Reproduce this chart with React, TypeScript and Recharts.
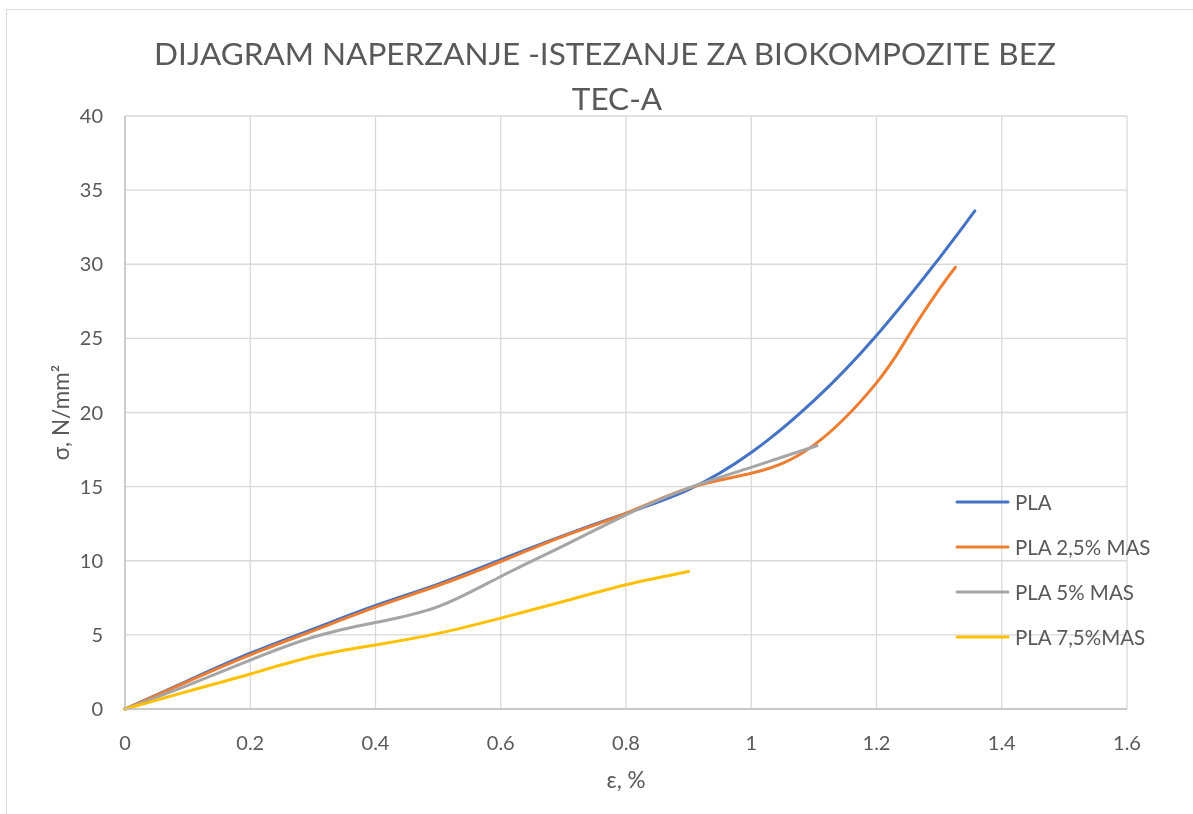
import React from "react";
import { LineChart, Line, XAxis, YAxis, CartesianGrid, Legend, Label } from "recharts";

const plaX = [0, 0.1, 0.2, 0.3, 0.4, 0.5, 0.6, 0.7, 0.8, 0.9, 1.0, 1.1, 1.2, 1.3, 1.357];
const plaY = [0, 1.9, 3.76, 5.38, 6.98, 8.42, 10.07, 11.7, 13.2, 14.8, 17.3, 20.8, 25.2, 30.4, 33.6];

const pla25X = [0, 0.1, 0.2, 0.3, 0.4, 0.5, 0.6, 0.7, 0.8, 0.9, 1.0, 1.1, 1.2, 1.25, 1.3, 1.326];
const pla25Y = [0, 1.85, 3.65, 5.27, 6.87, 8.33, 9.95, 11.64, 13.2, 14.9, 15.9, 17.8, 22.0, 25.1, 28.3, 29.8];

const pla5X = [0, 0.1, 0.2, 0.3, 0.4, 0.5, 0.6, 0.7, 0.8, 0.9, 1.0, 1.105];
const pla5Y = [0, 1.6, 3.3, 4.84, 5.83, 6.9, 8.94, 11.0, 13.1, 14.9, 16.3, 17.76];

const pla75X = [0, 0.1, 0.2, 0.3, 0.4, 0.5, 0.6, 0.7, 0.8, 0.9];
const pla75Y = [0, 1.19, 2.36, 3.54, 4.32, 5.1, 6.13, 7.25, 8.38, 9.28];

const xTicks = [0, 0.2, 0.4, 0.6, 0.8, 1, 1.2, 1.4, 1.6];
const yTicks = [0, 5, 10, 15, 20, 25, 30, 35, 40];

const seriesNames = ["PLA", "PLA 2,5% MAS", "PLA 5% MAS", "PLA 7,5%MAS"];
const seriesColors = ["#4472C4", "#ED7D31", "#A5A5A5", "#FFC000"];

const titleLine1 = "DIJAGRAM NAPERZANJE -ISTEZANJE ZA BIOKOMPOZITE BEZ";
const titleLine2 = "TEC-A";
const xTitle = "ε, %";
const yTitle = "σ, N/mm²";

const toPoints = (xs: number[], ys: number[]) => xs.map((x, i) => ({ x, y: ys[i] }));

const series = [
  toPoints(plaX, plaY),
  toPoints(pla25X, pla25Y),
  toPoints(pla5X, pla5Y),
  toPoints(pla75X, pla75Y),
];

const TEXT = "#595959";
const FONT = "Lato, 'Open Sans', sans-serif";

const LegendContent = () => (
  <div style={{ fontFamily: FONT }}>
    {seriesNames.map((n, i) => (
      <div key={n} style={{ height: 45, display: "flex", alignItems: "center" }}>
        <svg width={56} height={6} style={{ display: "block" }}>
          <line x1={2} y1={3} x2={53} y2={3} stroke={seriesColors[i]} strokeWidth={3} strokeLinecap="round" />
        </svg>
        <span style={{ fontSize: 20.5, color: TEXT, marginLeft: 4, whiteSpace: "nowrap" }}>{n}</span>
      </div>
    ))}
  </div>
);

export default function App() {
  return (
    <div style={{ position: "relative", width: 1177, height: 798, fontFamily: FONT, background: "#fff" }}>
      <div
        style={{
          position: "fixed",
          left: 6,
          top: 9,
          width: 1300,
          height: 900,
          borderLeft: "1px solid #d9d9d9",
          borderTop: "1px solid #d9d9d9",
          pointerEvents: "none",
        }}
      />
      <div
        style={{
          position: "absolute",
          left: 597 - 600,
          top: 45 - 20,
          width: 1200,
          textAlign: "center",
          fontSize: 31.5,
          color: TEXT,
          lineHeight: "40px",
          whiteSpace: "nowrap",
        }}
      >
        {titleLine1}
      </div>
      <div
        style={{
          position: "absolute",
          left: 609 - 100,
          top: 90 - 20,
          width: 200,
          textAlign: "center",
          fontSize: 31.5,
          color: TEXT,
          lineHeight: "40px",
        }}
      >
        {titleLine2}
      </div>
      <LineChart width={1177} height={798} margin={{ top: 108, right: 58, bottom: 0, left: 0 }}>
        <CartesianGrid stroke="#d9d9d9" strokeWidth={1.3} />
        <XAxis
          type="number"
          dataKey="x"
          domain={[0, 1.6]}
          ticks={xTicks}
          height={97}
          tickSize={0}
          tickMargin={27}
          axisLine={{ stroke: "#bfbfbf", strokeWidth: 1.3 }}
          tickLine={false}
          tick={{ fill: TEXT, fontSize: 20 }}
          allowDuplicatedCategory={false}
        >
          <Label
            content={(p: any) => {
              const vb = p.viewBox || {};
              return (
                <text x={vb.x + vb.width / 2} y={vb.y + 70} textAnchor="middle" dominantBaseline="central" fill={TEXT} fontSize={22.5}>
                  {xTitle}
                </text>
              );
            }}
          />
        </XAxis>
        <YAxis
          type="number"
          dataKey="y"
          domain={[0, 40]}
          ticks={yTicks}
          width={117}
          tickSize={0}
          tickMargin={22}
          axisLine={{ stroke: "#bfbfbf", strokeWidth: 1.3 }}
          tickLine={false}
          tick={{ fill: TEXT, fontSize: 20 }}
        >
          <Label
            content={(p: any) => {
              const vb = p.viewBox || {};
              const cx = 52;
              const cy = vb.y + vb.height / 2;
              return (
                <text x={cx} y={cy} transform={`rotate(-90 ${cx} ${cy})`} textAnchor="middle" dominantBaseline="central" fill={TEXT} fontSize={22.5}>
                  {yTitle}
                </text>
              );
            }}
          />
        </YAxis>
        <Legend
          layout="vertical"
          align="center"
          verticalAlign="middle"
          content={<LegendContent />}
          wrapperStyle={{ left: 947, top: 471, width: 230 }}
        />
        {series.map((d, i) => (
          <Line
            key={seriesNames[i]}
            name={seriesNames[i]}
            data={d}
            dataKey="y"
            type="natural"
            stroke={seriesColors[i]}
            strokeWidth={3}
            strokeLinecap="round"
            dot={false}
            activeDot={false}
            isAnimationActive={false}
          />
        ))}
      </LineChart>
    </div>
  );
}
